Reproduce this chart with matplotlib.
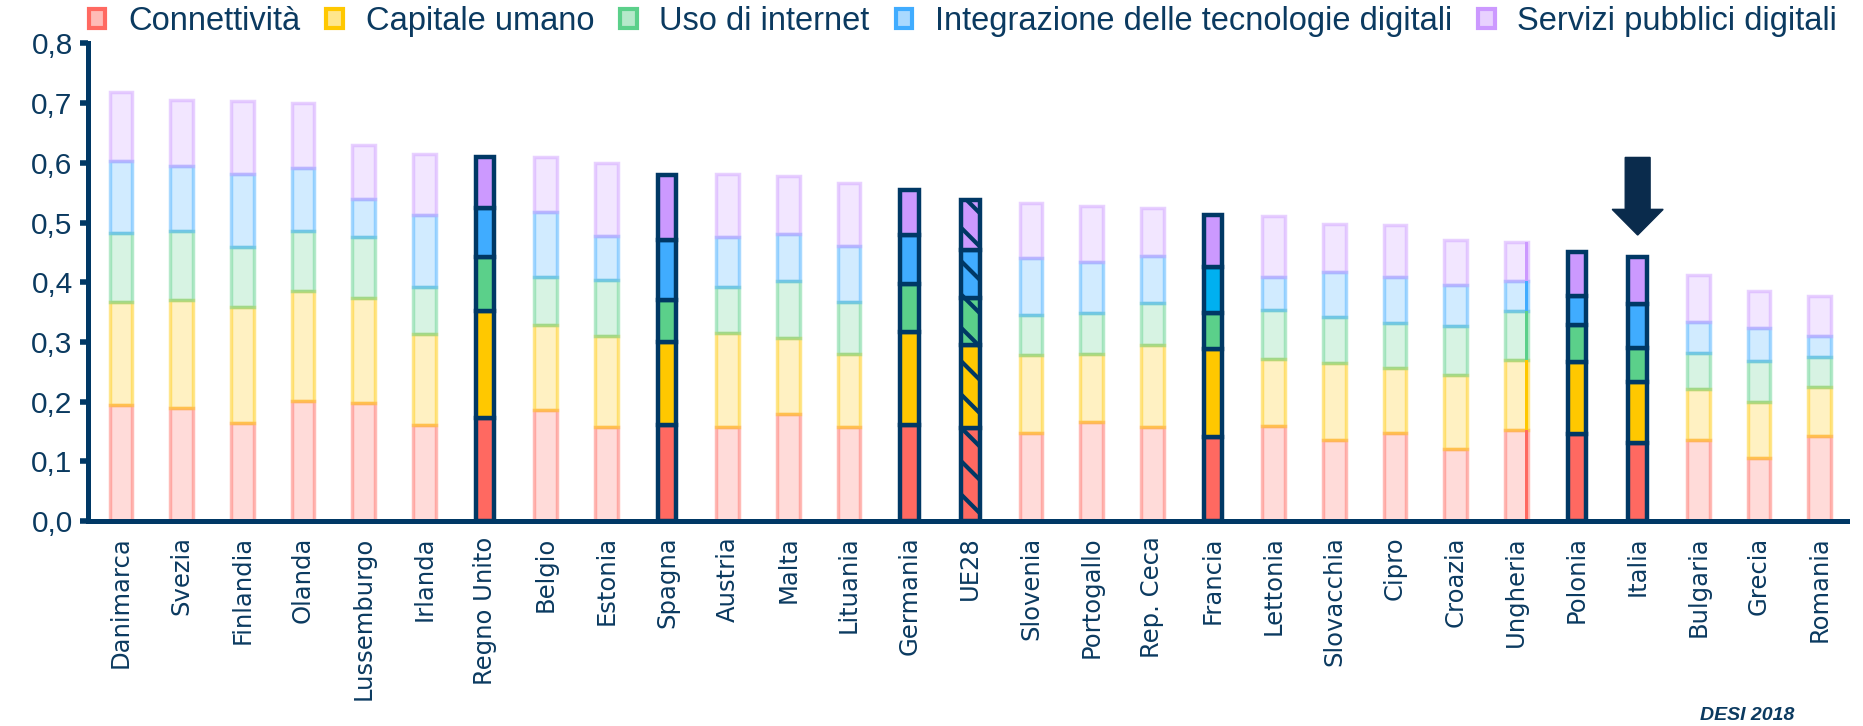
import numpy as np
import matplotlib.pyplot as plt
from matplotlib.colors import to_rgba
from matplotlib.patches import Patch, FancyArrow

countries = ["Danimarca", "Svezia", "Finlandia", "Olanda", "Lussemburgo", "Irlanda",
             "Regno Unito", "Belgio", "Estonia", "Spagna", "Austria", "Malta", "Lituania",
             "Germania", "UE28", "Slovenia", "Portogallo", "Rep. Ceca", "Francia", "Lettonia",
             "Slovacchia", "Cipro", "Croazia", "Ungheria", "Polonia", "Italia", "Bulgaria",
             "Grecia", "Romania"]

connettivita = [0.194, 0.189, 0.164, 0.201, 0.198, 0.160, 0.172, 0.186, 0.158, 0.161,
                0.158, 0.179, 0.158, 0.161, 0.155, 0.147, 0.165, 0.158, 0.140, 0.159,
                0.136, 0.147, 0.121, 0.152, 0.145, 0.131, 0.136, 0.105, 0.142]
capitale_umano = [0.173, 0.182, 0.195, 0.184, 0.176, 0.154, 0.179, 0.142, 0.152, 0.138,
                  0.157, 0.128, 0.122, 0.156, 0.140, 0.131, 0.114, 0.137, 0.148, 0.112,
                  0.128, 0.109, 0.124, 0.118, 0.121, 0.102, 0.085, 0.095, 0.083]
uso_internet = [0.115, 0.114, 0.100, 0.101, 0.102, 0.078, 0.092, 0.081, 0.094, 0.072,
                0.077, 0.095, 0.087, 0.080, 0.079, 0.067, 0.069, 0.070, 0.061, 0.082,
                0.078, 0.075, 0.082, 0.081, 0.063, 0.056, 0.061, 0.068, 0.050]
integrazione = [0.121, 0.110, 0.122, 0.105, 0.064, 0.121, 0.081, 0.109, 0.074, 0.100,
                0.084, 0.078, 0.093, 0.082, 0.080, 0.095, 0.085, 0.079, 0.077, 0.055,
                0.075, 0.077, 0.068, 0.051, 0.048, 0.074, 0.052, 0.055, 0.035]
servizi_pubblici = [0.116, 0.111, 0.122, 0.110, 0.090, 0.101, 0.086, 0.091, 0.121, 0.108,
                    0.105, 0.098, 0.107, 0.075, 0.083, 0.092, 0.095, 0.081, 0.087, 0.103,
                    0.080, 0.088, 0.075, 0.066, 0.074, 0.079, 0.078, 0.063, 0.067]

series_labels = ["Connettività", "Capitale umano", "Uso di internet",
                 "Integrazione delle tecnologie digitali", "Servizi pubblici digitali"]
highlighted = ["Regno Unito", "Spagna", "Germania", "UE28", "Francia", "Polonia", "Italia"]
eu_average = "UE28"
arrow_target = "Italia"
y_ticks = [0.0, 0.1, 0.2, 0.3, 0.4, 0.5, 0.6, 0.7, 0.8]
y_tick_labels = ["0,0", "0,1", "0,2", "0,3", "0,4", "0,5", "0,6", "0,7", "0,8"]

colors = ["#ff6961", "#ffc800", "#5bd08a", "#40acff", "#cc99ff"]
navy = "#003865"
text_color = "#0b3a60"

plt.rcParams["hatch.linewidth"] = 3.0
plt.rcParams["hatch.color"] = navy

fig = plt.figure(figsize=(18.63, 7.26), dpi=100)
ax = fig.add_axes([0.0472, 0.2824, 0.9442, 0.6578])

x = np.arange(len(countries))
series = np.array([connettivita, capitale_umano, uso_internet, integrazione, servizi_pubblici])
bottoms = np.vstack([np.zeros(len(countries)), np.cumsum(series, axis=0)[:-1]])
faded = np.array([c not in highlighted for c in countries])

for k, col in enumerate(colors):
    ax.bar(x[faded], series[k][faded], bottom=bottoms[k][faded], width=0.375,
           color=to_rgba(col, 0.24), edgecolor=to_rgba(col, 0.45), linewidth=2.5, zorder=2)
    for i in np.where(~faded)[0]:
        c = col
        if countries[i] == "Francia" and k == 3:
            c = "#00b0f0"  # Francia uses a different blue in the original
        ax.bar(x[i], series[k][i], bottom=bottoms[k][i], width=0.305, color=c,
               edgecolor=navy, linewidth=3.2, zorder=3,
               hatch="\\" if countries[i] == eu_average else None)

# Ungheria has a thin solid strip along its right edge
iu = countries.index("Ungheria")
ax.bar(x[iu] + 0.17, series[:, iu], bottom=bottoms[:, iu], width=0.05,
       color=colors, linewidth=0, zorder=2)

# arrow pointing at Italia
ia = countries.index(arrow_target)
tip = series[:, ia].sum() + 0.037
ax.add_patch(FancyArrow(x[ia], tip + 0.13, 0, -0.13, width=0.41, head_width=0.84,
                        head_length=0.043, length_includes_head=True,
                        color="#0a2b4c", zorder=4))

ax.set_xlim(-0.544, 28.45)
ax.set_ylim(0, 0.8)
ax.set_yticks(y_ticks)
ax.set_yticklabels(y_tick_labels, fontsize=21.5, family="Liberation Sans", color=text_color)
ax.set_xticks(x)
ax.set_xticklabels(countries, rotation=90, fontsize=17.5, family="DejaVu Sans", color=text_color)
ax.tick_params(axis="y", length=6, width=4, color=navy, pad=5)
ax.tick_params(axis="x", length=0, pad=11)
for s in ["top", "right"]:
    ax.spines[s].set_visible(False)
for s in ["left", "bottom"]:
    ax.spines[s].set_linewidth(3.6)
    ax.spines[s].set_color(navy)

handles = [Patch(facecolor=to_rgba(c, 0.45), edgecolor=c, linewidth=3) for c in colors]
fig.legend(handles, series_labels, loc="upper left", bbox_to_anchor=(89 / 1863, 1 - 6 / 726),
           ncol=5, frameon=False, borderpad=0, borderaxespad=0, handlelength=0.5,
           handleheight=0.55, handletextpad=0.7, columnspacing=0.8,
           prop={"family": "Liberation Sans", "size": 23.5}, labelcolor=text_color)

fig.text(1794 / 1863, 10 / 726, "DESI 2018", ha="right", va="center", fontsize=14,
         fontweight="bold", style="italic", family="Liberation Sans", color=text_color)

fig.savefig("out.png", dpi=100)
